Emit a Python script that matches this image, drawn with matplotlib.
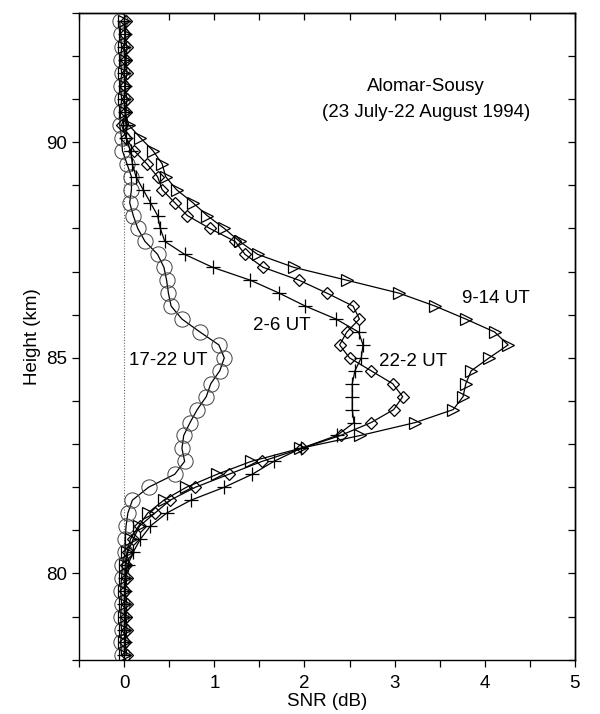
import numpy as np
import matplotlib.pyplot as plt
from matplotlib.ticker import MultipleLocator

plt.rcParams['font.family'] = ['Liberation Sans', 'DejaVu Sans']

# range gates (km), bottom to top
heights = [78.1, 78.4, 78.7, 79.0, 79.3, 79.6, 79.9, 80.2, 80.5, 80.8,
           81.1, 81.4, 81.7, 82.0, 82.3, 82.6, 82.9, 83.2, 83.5, 83.8,
           84.1, 84.4, 84.7, 85.0, 85.3, 85.6, 85.9, 86.2, 86.5, 86.8,
           87.1, 87.4, 87.7, 88.0, 88.3, 88.6, 88.9, 89.2, 89.5, 89.8,
           90.1, 90.4, 90.7, 91.0, 91.3, 91.6, 91.9, 92.2, 92.5, 92.8]

# mean SNR (dB) per local time window
snr_17_22 = [-0.03, -0.04, -0.03, -0.04, -0.03, -0.04, -0.03, -0.02, 0.01, 0.01,
             0.02, 0.04, 0.09, 0.27, 0.56, 0.67, 0.64, 0.66, 0.73, 0.81,
             0.91, 0.96, 1.06, 1.11, 1.05, 0.84, 0.64, 0.52, 0.49, 0.47,
             0.44, 0.37, 0.23, 0.15, 0.10, 0.06, 0.08, 0.08, 0.03, -0.02,
             -0.03, -0.05, -0.04, -0.03, -0.04, -0.03, -0.04, -0.03, -0.04, -0.05]

snr_2_6 = [0.00, 0.01, 0.00, 0.01, 0.00, 0.01, 0.01, 0.04, 0.10, 0.18,
           0.29, 0.47, 0.74, 1.11, 1.42, 1.66, 1.96, 2.36, 2.55, 2.53,
           2.53, 2.53, 2.56, 2.63, 2.65, 2.60, 2.35, 2.01, 1.72, 1.40,
           0.98, 0.67, 0.45, 0.40, 0.37, 0.29, 0.21, 0.13, 0.09, 0.07,
           0.02, 0.02, 0.01, 0.00, 0.01, 0.00, 0.01, 0.00, 0.01, 0.00]

snr_22_2 = [0.03, 0.01, 0.03, 0.02, 0.03, 0.01, 0.03, 0.02, 0.04, 0.10,
            0.17, 0.34, 0.51, 0.79, 1.16, 1.53, 1.97, 2.40, 2.74, 2.99,
            3.09, 2.98, 2.74, 2.50, 2.39, 2.47, 2.61, 2.54, 2.25, 1.94,
            1.54, 1.34, 1.23, 0.95, 0.70, 0.56, 0.42, 0.37, 0.25, 0.11,
            0.02, -0.03, 0.02, 0.03, 0.01, 0.03, 0.02, 0.03, 0.01, 0.02]

snr_9_14 = [0.01, 0.00, 0.01, 0.00, 0.01, 0.00, 0.01, 0.01, 0.03, 0.07,
            0.16, 0.26, 0.44, 0.69, 1.03, 1.41, 1.95, 2.62, 3.23, 3.65,
            3.76, 3.79, 3.85, 4.05, 4.26, 4.11, 3.79, 3.45, 3.05, 2.47,
            1.88, 1.48, 1.28, 1.11, 0.92, 0.76, 0.58, 0.46, 0.42, 0.32,
            0.18, 0.05, 0.01, 0.00, 0.01, 0.00, 0.01, 0.00, 0.01, 0.00]

fig = plt.figure(figsize=(6, 7.14), dpi=100)
ax = fig.add_axes([0.132, 0.076, 0.826, 0.906])

ax.axvline(0, color='0.4', lw=0.8, ls=(0, (1, 1.5)), zorder=1)

ax.plot(snr_17_22, heights, '-', color='k', lw=0.9, marker='o', ms=11,
        mfc='none', mec='0.25', mew=0.7)
ax.plot(snr_2_6, heights, '-', color='k', lw=0.9, marker='+', ms=10,
        mec='k', mew=0.9)
ax.plot(snr_22_2, heights, '-', color='k', lw=0.9, marker='D', ms=6.5,
        mfc='none', mec='k', mew=0.9)
ax.plot(snr_9_14, heights, '-', color='k', lw=0.9, marker='>', ms=8.5,
        mfc='none', mec='k', mew=0.9)

ax.set_xlim(-0.5, 5)
ax.set_ylim(78, 93)
ax.xaxis.set_major_locator(MultipleLocator(1))
ax.xaxis.set_minor_locator(MultipleLocator(0.5))
ax.yaxis.set_major_locator(MultipleLocator(5))
ax.yaxis.set_minor_locator(MultipleLocator(1))
ax.tick_params(which='both', direction='out', length=5, width=0.9,
               labelsize=13.5, colors='k')
ax.tick_params(axis='x', pad=6)

# inward ticks on the top and right frame
top = ax.secondary_xaxis('top')
top.xaxis.set_major_locator(MultipleLocator(1))
top.xaxis.set_minor_locator(MultipleLocator(0.5))
top.tick_params(which='both', direction='in', length=5, width=0.9, labeltop=False)
right = ax.secondary_yaxis('right')
right.yaxis.set_major_locator(MultipleLocator(5))
right.yaxis.set_minor_locator(MultipleLocator(1))
right.tick_params(which='both', direction='in', length=5, width=0.9, labelright=False)

for s in list(ax.spines.values()) + [top.spines['top'], right.spines['right']]:
    s.set_linewidth(1.0)

ax.set_xlabel('SNR (dB)', fontsize=13.5, labelpad=1)
ax.set_ylabel('Height (km)', fontsize=13.5, labelpad=4)

ax.text(3.35, 91.3, 'Alomar-Sousy', ha='center', va='center', fontsize=13.5)
ax.text(3.35, 90.68, '(23 July-22 August 1994)', ha='center', va='center', fontsize=13.5)

ax.text(3.75, 86.37, '9-14 UT', ha='left', va='center', fontsize=13.5)
ax.text(1.43, 85.75, '2-6 UT', ha='left', va='center', fontsize=13.5)
ax.text(2.83, 84.92, '22-2 UT', ha='left', va='center', fontsize=13.5)
ax.text(0.05, 84.94, '17-22 UT', ha='left', va='center', fontsize=13.5)

fig.savefig('out.png', dpi=100)
